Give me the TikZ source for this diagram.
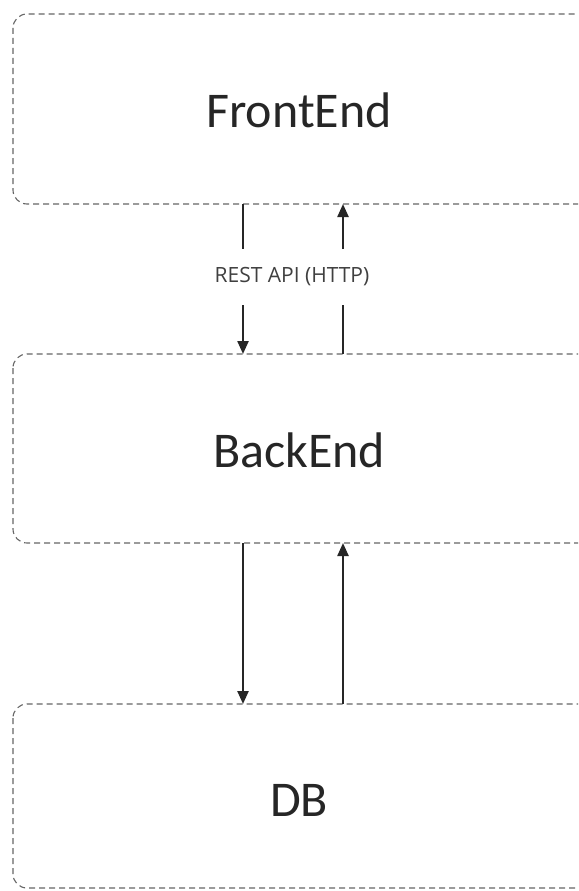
\documentclass[tikz,border=0pt]{standalone}
\usepackage{fontspec}
\setmainfont{Carlito}
\newfontfamily\labelfont{Open Sans}
\usetikzlibrary{arrows.meta}
\begin{document}
\begin{tikzpicture}[x=1pt,y=-1pt,
  layer/.style={draw=black!60, dash pattern=on 6pt off 4pt, line width=1.1pt, rounded corners=14pt},
  flow/.style={draw=black!85, line width=2.3pt, -{Triangle[length=13pt,width=11pt]}},
  plain/.style={draw=black!85, line width=2.3pt},
  title/.style={font=\fontsize{50}{60}\selectfont, text=black!85},
  api/.style={font=\labelfont\fontsize{21}{25}\selectfont, text=black!75}]
\useasboundingbox (0,0) rectangle (578,891);
\clip (0,0) rectangle (578,891);
\fill[white] (0,0) rectangle (578,891);
\draw[layer] (13,14) rectangle (600,204);
\draw[layer] (13,354) rectangle (600,543);
\draw[layer] (13,704) rectangle (600,888);
\node[title] (fe) at (299,110) {FrontEnd};
\node[title] (be) at (299,450) {BackEnd};
\node[title] (db) at (299,800) {DB};
\node[api] (api) at (292,277) {REST API (HTTP)};
\coordinate (a1) at (243,204);
\coordinate (a2) at (243,249);
\coordinate (a3) at (243,305);
\coordinate (a4) at (243,354);
\coordinate (b1) at (343,204);
\coordinate (b2) at (343,249);
\coordinate (b3) at (343,305);
\coordinate (b4) at (343,354);
\draw[plain] (a1) -- (a2);
\draw[flow] (a3) -- (a4);
\draw[flow] (b2) -- (b1);
\draw[plain] (b4) -- (b3);
\coordinate (c1) at (243,543);
\coordinate (c2) at (243,704);
\coordinate (d1) at (343,704);
\coordinate (d2) at (343,543);
\draw[flow] (c1) -- (c2);
\draw[flow] (d1) -- (d2);
\end{tikzpicture}
\end{document}
